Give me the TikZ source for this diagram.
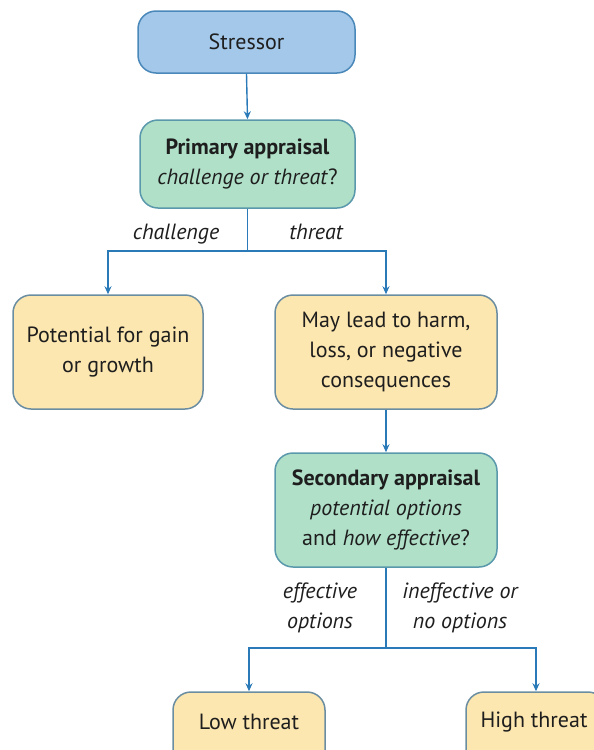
\documentclass[tikz,border=0pt]{standalone}
\usepackage{fontspec}
\setmainfont{PT Sans}
\usetikzlibrary{arrows.meta}
\definecolor{txt}{HTML}{1E1E1E}
\definecolor{bluefill}{HTML}{A3C8EA}
\definecolor{blueline}{HTML}{4A88BA}
\definecolor{greenfill}{HTML}{B0E0C8}
\definecolor{greenline}{HTML}{5A98AC}
\definecolor{yelfill}{HTML}{FDE7B0}
\definecolor{yelline}{HTML}{6A8DA2}
\definecolor{arrcol}{HTML}{2A7AB8}
\tikzset{
  box/.style={draw, line width=1.5pt, rounded corners=18pt, align=center, text=txt,
    font=\fontsize{22}{30}\selectfont, inner sep=0pt},
  bluebox/.style={box, fill=bluefill, draw=blueline},
  greenbox/.style={box, fill=greenfill, draw=greenline},
  yelbox/.style={box, fill=yelfill, draw=yelline},
  arr/.style={draw=arrcol, line width=1.4pt, -{Stealth[length=8pt,width=7pt]}},
  lbl/.style={text=txt, font=\fontsize{22}{30}\selectfont\itshape, align=center, inner sep=0pt},
  boxtxt/.style={text=txt, font=\fontsize{22}{30}\selectfont, inner sep=0pt}
}
\begin{document}
\begin{tikzpicture}[x=1pt,y=-1pt]
\useasboundingbox (0,0) rectangle (594,750);
\clip (0,0) rectangle (594,750);
\node[bluebox, minimum width=217pt, minimum height=62pt] (s) at (246.5,42) {Stressor};
\node[greenbox, minimum width=215pt, minimum height=88pt] (p) at (247.5,164) {\textbf{Primary appraisal}\\\textit{challenge or threat}?};
\node[yelbox, minimum width=190pt, minimum height=114pt] (l) at (108,352) {Potential for gain\\or growth};
\node[yelbox, minimum width=222pt, minimum height=114pt] (r) at (386,352) {May lead to harm,\\loss, or negative\\consequences};
\node[greenbox, minimum width=222pt, minimum height=114pt] (sec) at (386,510) {\textbf{Secondary appraisal}\\\textit{potential options}\\and \textit{how effective}?};
\node[yelbox, minimum width=152pt, minimum height=90pt] (lo) at (249,737) {};
\node[boxtxt] (lot) at (249,722) {Low threat};
\node[yelbox, minimum width=140pt, minimum height=90pt] (hi) at (536,737) {};
\node[boxtxt] (hit) at (534,722) {High threat};
\node[lbl, anchor=base] (cl) at (176,239) {challenge};
\node[lbl, anchor=base] (tl) at (316,239) {threat};
\node[lbl] (el) at (320,608) {effective\\options};
\node[lbl] (il) at (460,608) {ineffective or\\no options};
\draw[arr] (s.south) -- (p.north);
\coordinate (b1) at (247.5,251);
\draw[arr] (p.south) -- (b1) -| (l.north);
\draw[arr] (b1) -| (r.north);
\draw[arr] (r.south) -- (sec.north);
\coordinate (b2) at (386,648);
\draw[arr] (sec.south) -- (b2) -| (lo.north);
\draw[arr] (b2) -| (hi.north);
\end{tikzpicture}
\end{document}
